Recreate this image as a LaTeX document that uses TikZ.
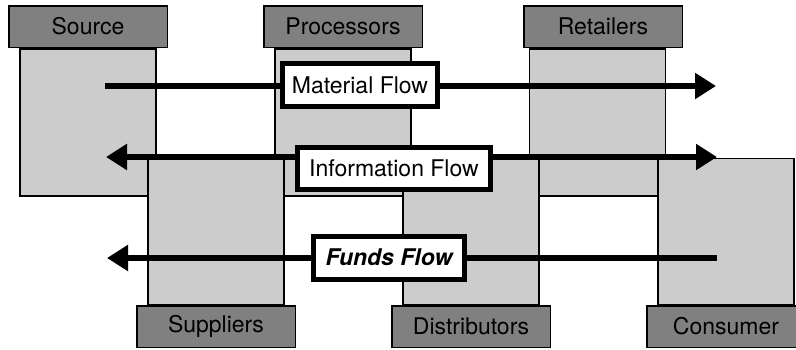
\documentclass[tikz,border=0pt]{standalone}
\usepackage{fontspec}
\setmainfont{TeX Gyre Heros}
\usetikzlibrary{arrows.meta,positioning}
\definecolor{hdrgray}{gray}{0.5}
\definecolor{areagray}{gray}{0.8}

\begin{document}
\begin{tikzpicture}[x=1pt,y=-1pt,
  font=\fontsize{23}{27}\selectfont,
  hdr/.style={draw,line width=1.5pt,fill=hdrgray,minimum width=158.5pt,minimum height=41.5pt,inner sep=0pt},
  area/.style={draw,line width=1.5pt,fill=areagray,minimum width=136pt,inner sep=0pt},
  flowlbl/.style={draw,line width=5pt,fill=white,inner sep=0pt},
  flowln/.style={line width=6pt},
  bigtip/.tip={Triangle[length=21pt,width=25pt]}]
\useasboundingbox (0,0) rectangle (796,349);
% upper row
\node[hdr] (src) at (88,26.5) {Source};
\node[hdr] (proc) at (343,26.5) {Processors};
\node[hdr] (ret) at (603,26.5) {Retailers};
\node[area,minimum height=147pt,below=0pt of src] (srcA) {};
\node[area,minimum height=147pt,below=0pt of proc] (procA) {};
\node[area,minimum height=147pt,below=0pt of ret,xshift=-5.5pt] (retA) {};
% lower row
\node[hdr] (sup) at (216,326.5) {Suppliers};
\node[hdr] (dist) at (471,326.5) {Distributors};
\node[hdr] (cons) at (726,326.5) {Consumer};
\node[area,minimum height=146pt,above=0pt of sup] (supA) {};
\node[area,minimum height=146pt,above=0pt of dist] (distA) {};
\node[area,minimum height=146pt,above=0pt of cons] (consA) {};
% flows
\coordinate (matL) at (105,86);
\coordinate (matR) at (716,86);
\coordinate (infL) at (106,157);
\coordinate (infR) at (717,157);
\coordinate (funL) at (107,258);
\coordinate (funR) at (717,258);
\draw[flowln,-bigtip] (matL) -- (matR);
\draw[flowln,bigtip-bigtip] (infL) -- (infR);
\draw[flowln,bigtip-] (funL) -- (funR);
\node[flowlbl,minimum width=155pt,minimum height=43pt] (mat) at (360,85) {Material Flow};
\node[flowlbl,minimum width=193pt,minimum height=42pt] (inf) at (394,168.5) {Information Flow};
\node[flowlbl,minimum width=151pt,minimum height=43pt,font=\fontsize{23}{27}\selectfont\bfseries\itshape] (fun) at (389,257.5) {Funds Flow};
\end{tikzpicture}
\end{document}
